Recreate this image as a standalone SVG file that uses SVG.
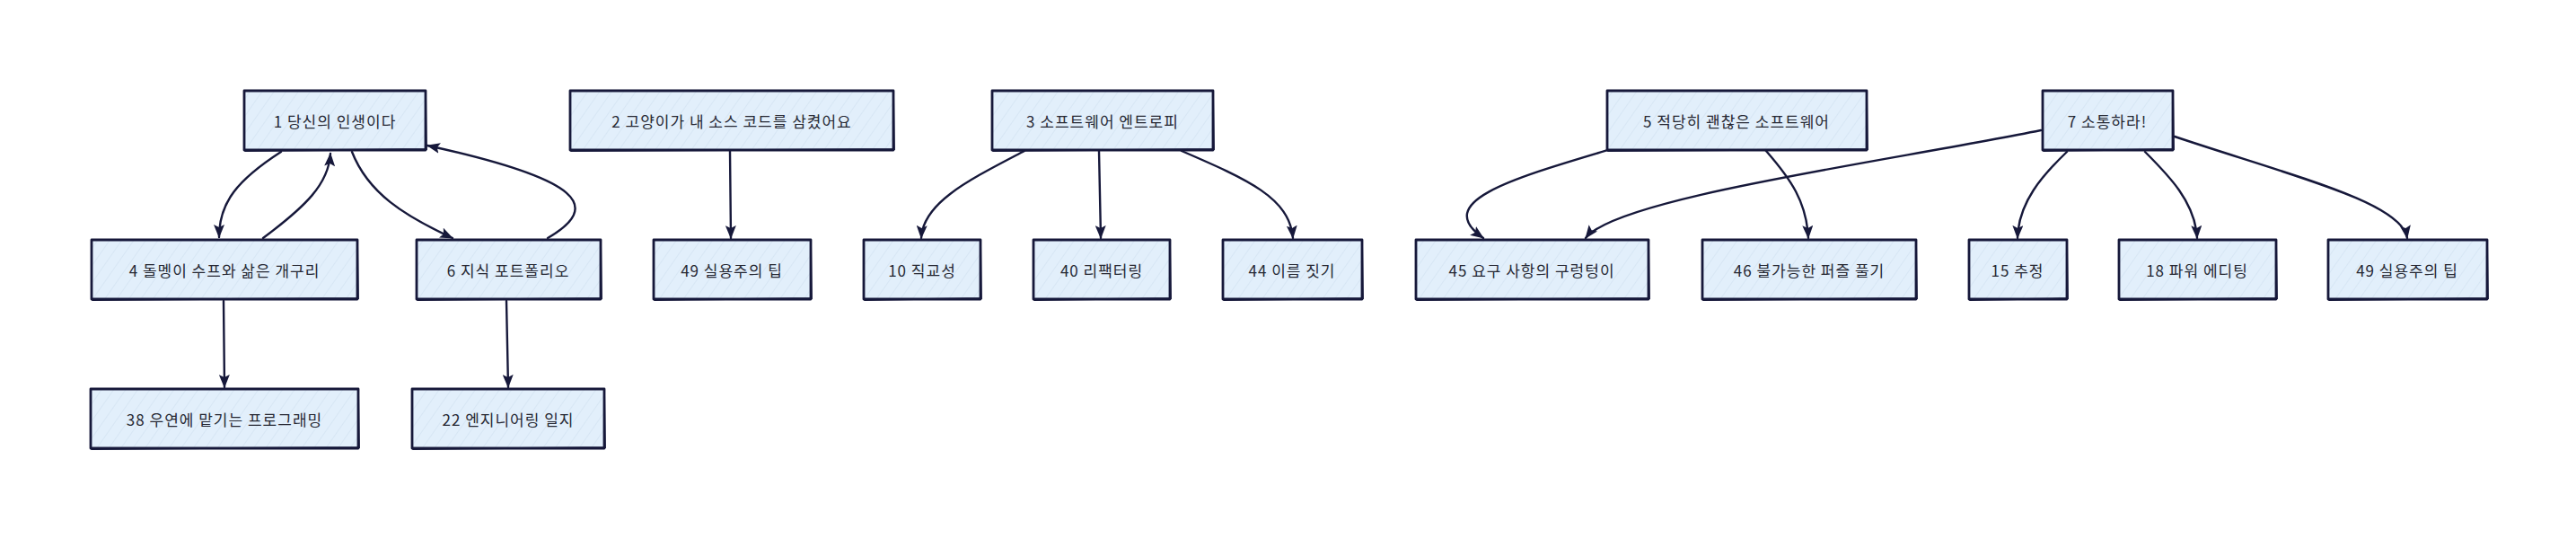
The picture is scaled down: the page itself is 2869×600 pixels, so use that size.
<svg xmlns="http://www.w3.org/2000/svg" width="2869" height="600" viewBox="0 0 2869 600">
<style>
.box{fill:url(#hach);stroke:#16183a;stroke-width:2.8;stroke-linejoin:round}
.sk{fill:none;stroke:#16183a;stroke-width:1.8;stroke-linecap:round}
.lbl{font-family:"Noto Sans CJK KR","Noto Sans",sans-serif;font-size:17px;letter-spacing:1px;fill:#262833;text-anchor:middle;dominant-baseline:central}
.edge{fill:none;stroke:#16183a;stroke-width:2.4;stroke-linecap:round;marker-end:url(#arr)}
</style>
<defs>
<pattern id="hach" patternUnits="userSpaceOnUse" width="11" height="11" patternTransform="rotate(35)">
<rect width="11" height="11" fill="#e2effb"/>
<line x1="0" y1="0" x2="0" y2="11" stroke="#cbdbeb" stroke-width="0.9"/>
</pattern>
<marker id="arr" markerUnits="userSpaceOnUse" markerWidth="16" markerHeight="12" refX="14" refY="6" orient="auto">
<path d="M0,0 L15,6 L0,12 L3,6 z" fill="#16183a"/>
</marker>
</defs>
<rect width="2869" height="600" fill="#ffffff"/>
<g id="connectors">
<path class="edge" d="M313,169 C265,200 244,225 244,264"/>
<path class="edge" d="M293,265 C340,230 366,205 368,171"/>
<path class="edge" d="M392,169 C410,215 450,240 504,265"/>
<path class="edge" d="M610,265 C670,230 650,200 476,162"/>
<path class="edge" d="M249,335 L250,431"/>
<path class="edge" d="M564,335 L566,431"/>
<path class="edge" d="M813,168 L814,265"/>
<path class="edge" d="M1141,168 C1080,200 1028,225 1026,265"/>
<path class="edge" d="M1224,168 L1226,265"/>
<path class="edge" d="M1316,168 C1390,200 1436,220 1440,265"/>
<path class="edge" d="M1791,167 C1680,200 1595,225 1652,265"/>
<path class="edge" d="M1967,168 C1995,200 2012,225 2014,265"/>
<path class="edge" d="M2273,145 C2100,180 1800,220 1766,265"/>
<path class="edge" d="M2302,169 C2275,195 2248,225 2247,265"/>
<path class="edge" d="M2389,169 C2415,195 2445,225 2447,265"/>
<path class="edge" d="M2422,152 C2550,195 2675,225 2681,265"/>
</g>
<g id="n1"><rect class="box" x="272" y="101" width="202" height="66"/><path class="sk" d="M273,168 L475,166 L474,102"/><text class="lbl" x="373" y="134">1 당신의 인생이다</text></g>
<g id="n2"><rect class="box" x="635" y="101" width="360" height="66"/><path class="sk" d="M636,168 L996,166 L995,102"/><text class="lbl" x="815" y="134">2 고양이가 내 소스 코드를 삼켰어요</text></g>
<g id="n3"><rect class="box" x="1105" y="101" width="246" height="66"/><path class="sk" d="M1106,168 L1352,166 L1351,102"/><text class="lbl" x="1228" y="134">3 소프트웨어 엔트로피</text></g>
<g id="n5"><rect class="box" x="1790" y="101" width="289" height="66"/><path class="sk" d="M1791,168 L2080,166 L2079,102"/><text class="lbl" x="1934" y="134">5 적당히 괜찮은 소프트웨어</text></g>
<g id="n7"><rect class="box" x="2275" y="101" width="145" height="66"/><path class="sk" d="M2276,168 L2421,166 L2420,102"/><text class="lbl" x="2347" y="134">7 소통하라!</text></g>
<g id="n4"><rect class="box" x="102" y="267" width="296" height="66"/><path class="sk" d="M103,334 L399,332 L398,268"/><text class="lbl" x="250" y="300">4 돌멩이 수프와 삶은 개구리</text></g>
<g id="n6"><rect class="box" x="464" y="267" width="205" height="66"/><path class="sk" d="M465,334 L670,332 L669,268"/><text class="lbl" x="566" y="300">6 지식 포트폴리오</text></g>
<g id="n49a"><rect class="box" x="728" y="267" width="175" height="66"/><path class="sk" d="M729,334 L904,332 L903,268"/><text class="lbl" x="815" y="300">49 실용주의 팁</text></g>
<g id="n10"><rect class="box" x="962" y="267" width="130" height="66"/><path class="sk" d="M963,334 L1093,332 L1092,268"/><text class="lbl" x="1027" y="300">10 직교성</text></g>
<g id="n40"><rect class="box" x="1151" y="267" width="152" height="66"/><path class="sk" d="M1152,334 L1304,332 L1303,268"/><text class="lbl" x="1227" y="300">40 리팩터링</text></g>
<g id="n44"><rect class="box" x="1362" y="267" width="155" height="66"/><path class="sk" d="M1363,334 L1518,332 L1517,268"/><text class="lbl" x="1439" y="300">44 이름 짓기</text></g>
<g id="n45"><rect class="box" x="1577" y="267" width="259" height="66"/><path class="sk" d="M1578,334 L1837,332 L1836,268"/><text class="lbl" x="1706" y="300">45 요구 사항의 구렁텅이</text></g>
<g id="n46"><rect class="box" x="1896" y="267" width="238" height="66"/><path class="sk" d="M1897,334 L2135,332 L2134,268"/><text class="lbl" x="2015" y="300">46 불가능한 퍼즐 풀기</text></g>
<g id="n15"><rect class="box" x="2193" y="267" width="109" height="66"/><path class="sk" d="M2194,334 L2303,332 L2302,268"/><text class="lbl" x="2247" y="300">15 추정</text></g>
<g id="n18"><rect class="box" x="2360" y="267" width="175" height="66"/><path class="sk" d="M2361,334 L2536,332 L2535,268"/><text class="lbl" x="2447" y="300">18 파워 에디팅</text></g>
<g id="n49b"><rect class="box" x="2593" y="267" width="177" height="66"/><path class="sk" d="M2594,334 L2771,332 L2770,268"/><text class="lbl" x="2681" y="300">49 실용주의 팁</text></g>
<g id="n38"><rect class="box" x="101" y="433" width="298" height="66"/><path class="sk" d="M102,500 L400,498 L399,434"/><text class="lbl" x="250" y="466">38 우연에 맡기는 프로그래밍</text></g>
<g id="n22"><rect class="box" x="459" y="433" width="214" height="66"/><path class="sk" d="M460,500 L674,498 L673,434"/><text class="lbl" x="566" y="466">22 엔지니어링 일지</text></g>
</svg>
